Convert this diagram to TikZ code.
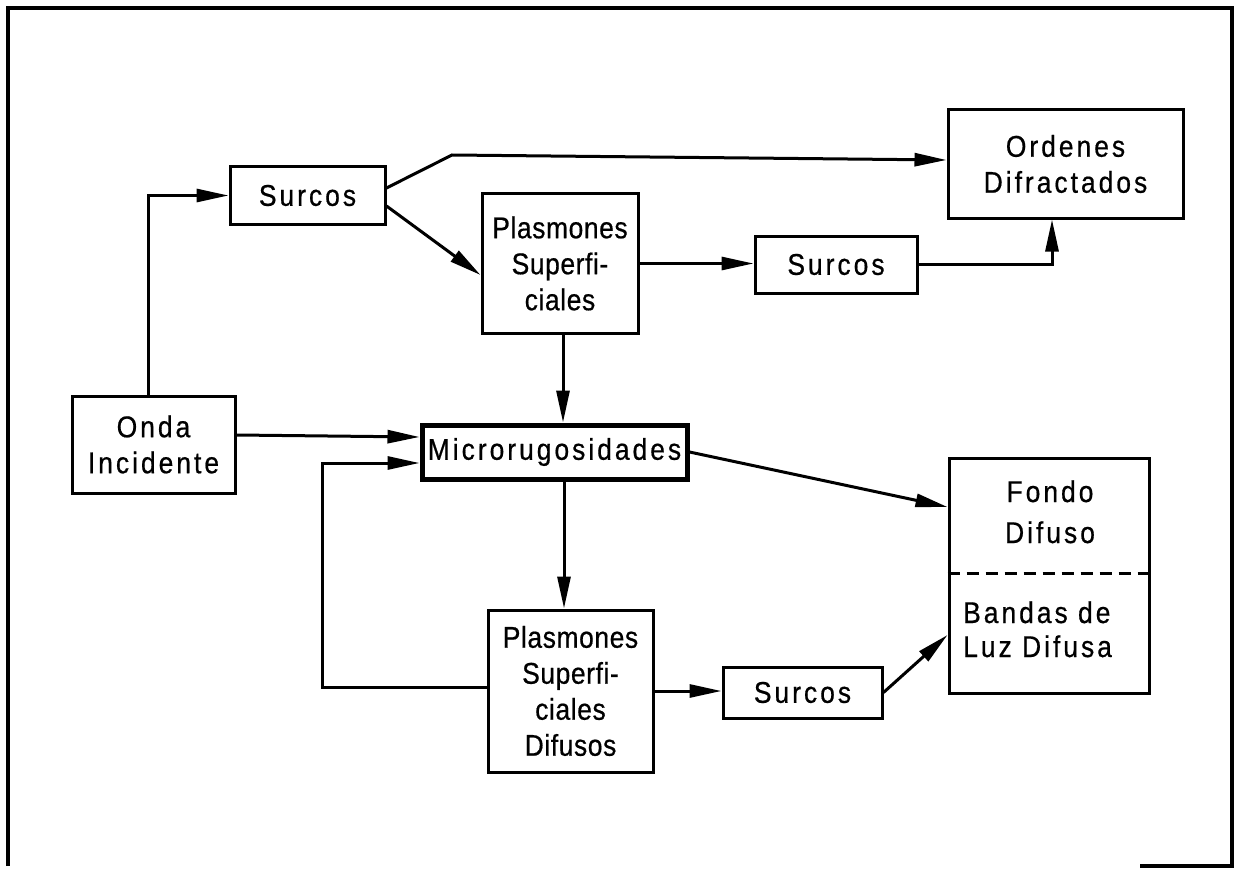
\documentclass[tikz,border=0pt]{standalone}
\usepackage{fontspec}
\setmainfont{Liberation Sans}[LetterSpace=10,FakeStretch=0.88,FakeBold=0.6]
\usetikzlibrary{arrows.meta,calc}
\begin{document}
\begin{tikzpicture}[x=1pt,y=-1pt,
  box/.style={draw,line width=3pt,inner sep=0pt,align=center,
    font=\fontsize{30}{36}\selectfont},
  tight/.style={font=\fontsize{30}{36}\selectfont\addfontfeatures{LetterSpace=2}},
  lbl/.style={font=\fontsize{30}{36}\selectfont,inner sep=0pt},
  conn/.style={line width=3pt,-{Triangle[length=32pt,width=13pt]}},
  plain/.style={line width=3pt}]
\useasboundingbox (0,0) rectangle (1236,869);
% frame
\draw[line width=3.5pt] (8,866) -- (8,8) -- (1232,8) -- (1232,866) -- (1140,866);
% nodes
\node[box,minimum width=155pt,minimum height=57pt] (s1) at (307.5,195.5) {Surcos};
\node[box,minimum width=163pt,minimum height=97pt] (onda) at (153.5,444.5) {Onda\\Incidente};
\node[box,tight,minimum width=156pt,minimum height=139pt] (ps1) at (560,263.5) {Plasmones\\Superfi-\\ciales};
\node[box,minimum width=162pt,minimum height=57pt] (s2) at (836,264.5) {Surcos};
\node[box,minimum width=235pt,minimum height=108pt] (ord) at (1065.5,164) {Ordenes\\Difractados};
\node[box,line width=5pt,minimum width=265pt,minimum height=54pt] (micro) at (554.5,452) {Microrugosidades};
\node[box,tight,minimum width=165pt,minimum height=162pt] (psd) at (570.5,691) {Plasmones\\Superfi-\\ciales\\Difusos};
\node[box,minimum width=159pt,minimum height=51pt] (s3) at (802.5,692.5) {Surcos};
\node[box,minimum width=200pt,minimum height=235pt] (fondo) at (1049,575.5) {};
\draw[plain,dash pattern=on 12pt off 7pt] (fondo.west |- 0,573) -- (fondo.east |- 0,573);
\node[lbl,anchor=base] (fondotxt) at (1050,502) {Fondo};
\node[lbl,anchor=base] (difusotxt) at (1050,543) {Difuso};
\node[lbl,anchor=base west] (bandastxt) at (963,623) {Bandas de};
\node[lbl,anchor=base west] (luztxt) at (963,657) {Luz Difusa};
% connectors
\draw[conn] ([xshift=-5.5pt]onda.north) |- (s1.west);
\draw[conn] ([yshift=9.5pt]onda.east) -- ([yshift=15pt]micro.west);
\coordinate (loopc) at (322,687);
\draw[conn] ([yshift=4pt]psd.west) -- (loopc) |- ([yshift=-11pt]micro.west);
\draw[conn] ([xshift=9.5pt]micro.south) -- ([xshift=9.5pt]micro.south |- psd.north);
\draw[conn] ([xshift=3pt]ps1.south) -- ([xshift=3pt]ps1.south |- micro.north);
\draw[conn] ([yshift=-10.5pt]s1.east) -- ([yshift=-11.5pt]ps1.west);
\coordinate (kink) at (452,155);
\draw[conn] ([yshift=7.5pt]s1.east) -- (kink) -- ([yshift=4pt]ord.west);
\draw[conn] (ps1.east) -- (ps1.east -| s2.west);
\draw[conn] (s2.east) -| ([xshift=-13.5pt]ord.south);
\draw[conn] (psd.east) -- (psd.east -| s3.west);
\draw[conn] (s3.east) -- ([yshift=-59.5pt]fondo.west);
\draw[conn] (micro.east) -- ([yshift=68.5pt]fondo.west);
\end{tikzpicture}
\end{document}
